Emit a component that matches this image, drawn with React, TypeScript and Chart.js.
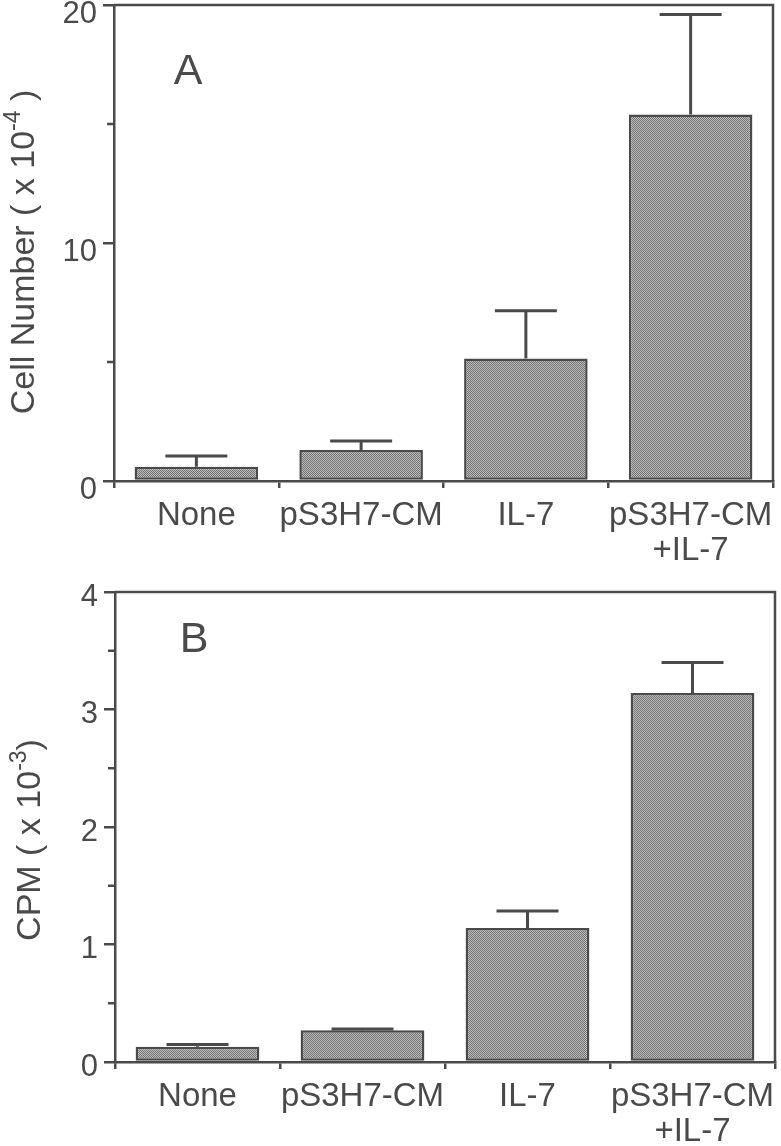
import React, { useEffect, useRef } from 'react';
import { Chart, registerables } from 'chart.js';

Chart.register(...registerables);

// ---- data ----
const categories: (string | string[])[] = ['None', 'pS3H7-CM', 'IL-7', ['pS3H7-CM', '+IL-7']];

const cellNumber = [0.6, 1.3, 5.15, 15.4];
const cellNumberErr = [0.45, 0.38, 2.0, 4.2];
const cellTicks = [0, 10, 20];
const cellMinorTicks = [5, 15];

const cpm = [0.13, 0.27, 1.14, 3.14];
const cpmErr = [0.02, 0.01, 0.145, 0.26];
const cpmTicks = [0, 1, 2, 3, 4];
const cpmMinorTicks = [0.5, 1.5, 2.5, 3.5];

// ---- styles ----
const FONT = '"Liberation Sans", Arial, Helvetica, sans-serif';
const INK = '#4a4a4a';
const LINE_W = 2.5;

function makePattern(): CanvasPattern | string {
  const c = document.createElement('canvas');
  c.width = 2;
  c.height = 2;
  const g = c.getContext('2d');
  if (!g) return '#a0a0a0';
  g.fillStyle = '#bdbdbd';
  g.fillRect(0, 0, 2, 2);
  g.fillStyle = '#727272';
  g.fillRect(0, 0, 1, 1);
  g.fillRect(1, 1, 1, 1);
  const p = g.createPattern(c, 'repeat');
  return p || '#a0a0a0';
}

type PanelSpec = {
  values: number[];
  errs: number[];
  max: number;
  ticks: number[];
  minor: number[];
  titleMain: string;
  titleSup: string;
  titleEnd: string;
  titleX: number;
  titleY: number;
  letter: string;
  letterX: number;
  letterY: number;
  yWidth: number;
  xHeight: number;
  padTop: number;
  padRight: number;
  labelOffset: number;
};

function makeChart(canvas: HTMLCanvasElement, spec: PanelSpec) {
  const decor = {
    id: 'decor' + spec.letter,
    afterDatasetsDraw(chart: any) {
      const ctx: CanvasRenderingContext2D = chart.ctx;
      const y = chart.scales.y;
      const meta = chart.getDatasetMeta(0);
      ctx.save();
      ctx.strokeStyle = INK;
      ctx.lineWidth = 3;
      ctx.lineCap = 'butt';
      meta.data.forEach((bar: any, i: number) => {
        const top = y.getPixelForValue(spec.values[i] + spec.errs[i]);
        ctx.beginPath();
        ctx.moveTo(bar.x, bar.y);
        ctx.lineTo(bar.x, top);
        ctx.stroke();
        ctx.beginPath();
        ctx.moveTo(bar.x - 31, top);
        ctx.lineTo(bar.x + 31, top);
        ctx.stroke();
      });
      ctx.restore();
    },
    afterDraw(chart: any) {
      const ctx: CanvasRenderingContext2D = chart.ctx;
      const a = chart.chartArea;
      const y = chart.scales.y;
      ctx.save();
      ctx.strokeStyle = INK;
      ctx.lineWidth = LINE_W;
      // frame top and right
      ctx.beginPath();
      ctx.moveTo(a.left, a.top);
      ctx.lineTo(a.right, a.top);
      ctx.lineTo(a.right, a.bottom);
      ctx.stroke();
      // minor ticks
      spec.minor.forEach((v) => {
        const py = y.getPixelForValue(v);
        ctx.beginPath();
        ctx.moveTo(a.left - 7, py);
        ctx.lineTo(a.left, py);
        ctx.stroke();
      });
      // axis title with superscript
      ctx.fillStyle = INK;
      ctx.textBaseline = 'middle';
      ctx.textAlign = 'left';
      const mainFont = `34px ${FONT}`;
      const supFont = `23px ${FONT}`;
      ctx.font = mainFont;
      const w1 = ctx.measureText(spec.titleMain).width;
      const w3 = ctx.measureText(spec.titleEnd).width;
      ctx.font = supFont;
      const w2 = ctx.measureText(spec.titleSup).width;
      const total = w1 + w2 + w3;
      ctx.translate(spec.titleX, spec.titleY);
      ctx.rotate(-Math.PI / 2);
      let x = -total / 2;
      ctx.font = mainFont;
      ctx.fillText(spec.titleMain, x, 0);
      x += w1;
      ctx.font = supFont;
      ctx.fillText(spec.titleSup, x, -11);
      x += w2;
      ctx.font = mainFont;
      ctx.fillText(spec.titleEnd, x, 0);
      ctx.setTransform(1, 0, 0, 1, 0, 0);
      // panel letter
      ctx.font = `43px ${FONT}`;
      ctx.textAlign = 'center';
      ctx.textBaseline = 'middle';
      ctx.fillText(spec.letter, spec.letterX, spec.letterY);
      ctx.restore();
    },
  };

  return new Chart(canvas, {
    type: 'bar',
    data: {
      labels: categories,
      datasets: [
        {
          data: spec.values,
          backgroundColor: makePattern() as any,
          borderColor: INK,
          borderWidth: 2.5,
          borderSkipped: false,
          categoryPercentage: 1,
          barPercentage: 0.75,
        },
      ],
    },
    options: {
      responsive: false,
      maintainAspectRatio: false,
      animation: false,
      events: [],
      layout: { padding: { top: spec.padTop, right: spec.padRight, left: 0, bottom: 0 } },
      plugins: { legend: { display: false }, tooltip: { enabled: false } },
      scales: {
        x: {
          afterFit: (s: any) => {
            s.height = spec.xHeight;
            s.paddingLeft = 0;
            s.paddingRight = 0;
          },
          ticks: {
            font: { family: FONT, size: 33, lineHeight: 1.06 },
            color: INK,
            padding: 10,
            maxRotation: 0,
            minRotation: 0,
            autoSkip: false,
          },
          grid: {
            offset: true,
            drawOnChartArea: false,
            drawTicks: true,
            tickLength: 7,
            color: INK,
            lineWidth: LINE_W,
          },
          border: { color: INK, width: LINE_W },
        },
        y: {
          min: 0,
          max: spec.max,
          afterFit: (s: any) => {
            s.width = spec.yWidth;
            s.paddingTop = 0;
            s.paddingBottom = 0;
          },
          afterBuildTicks: (s: any) => {
            s.ticks = spec.ticks.map((v) => ({ value: v }));
          },
          ticks: {
            font: { family: FONT, size: 31 },
            color: INK,
            padding: 6,
            labelOffset: spec.labelOffset,
          },
          grid: {
            drawOnChartArea: false,
            drawTicks: true,
            tickLength: 11,
            color: INK,
            lineWidth: LINE_W,
          },
          border: { color: INK, width: LINE_W },
        },
      },
    },
    plugins: [decor],
  });
}

export default function App() {
  const refA = useRef<HTMLCanvasElement>(null);
  const refB = useRef<HTMLCanvasElement>(null);

  useEffect(() => {
    if (!refA.current || !refB.current) return;
    const a = makeChart(refA.current, {
      values: cellNumber,
      errs: cellNumberErr,
      max: 20,
      ticks: cellTicks,
      minor: cellMinorTicks,
      titleMain: 'Cell Number ( x 10',
      titleSup: '-4',
      titleEnd: ' )',
      titleX: 25,
      titleY: 252,
      letter: 'A',
      letterX: 188,
      letterY: 72,
      yWidth: 114,
      xHeight: 89,
      padTop: 5,
      padRight: 8,
      labelOffset: 9,
    });
    const b = makeChart(refB.current, {
      values: cpm,
      errs: cpmErr,
      max: 4,
      ticks: cpmTicks,
      minor: cpmMinorTicks,
      titleMain: 'CPM ( x 10',
      titleSup: '-3',
      titleEnd: ')',
      titleX: 31,
      titleY: 270,
      letter: 'B',
      letterX: 194,
      letterY: 70,
      yWidth: 115,
      xHeight: 84,
      padTop: 22,
      padRight: 6,
      labelOffset: 5,
    });
    return () => {
      a.destroy();
      b.destroy();
    };
  }, []);

  return (
    <div style={{ position: 'absolute', left: 0, top: 0, width: 781, height: 1146, background: '#ffffff' }}>
      <canvas ref={refA} width={781} height={570} style={{ display: 'block', width: 781, height: 570 }} />
      <canvas ref={refB} width={781} height={576} style={{ display: 'block', width: 781, height: 576 }} />
    </div>
  );
}
